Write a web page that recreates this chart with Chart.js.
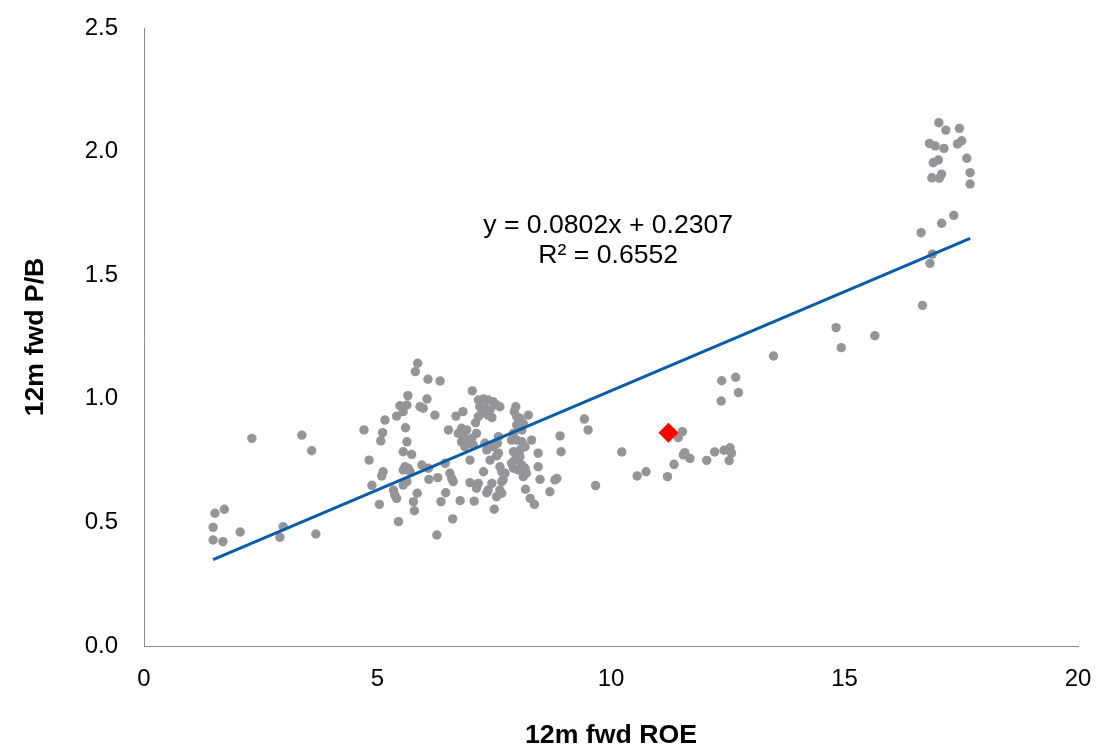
<!DOCTYPE html>
<html>
<head>
<meta charset="utf-8">
<script src="https://cdn.jsdelivr.net/npm/chart.js@4.4.1/dist/chart.umd.min.js"></script>
<style>
html,body{margin:0;padding:0;background:#ffffff;}
#wrap{width:1097px;height:747px;}
</style>
</head>
<body>
<div id="wrap"><canvas id="c" width="1097" height="747"></canvas></div>
<script>
// ---- Data ----
const peerRoe = [
  2.31,3.38,3.59,1.52,1.72,1.48,1.48,1.69,2.06,2.98,2.91,3.68,4.71,5.16,5.11,5.07,4.82,5.12,5.09,4.88,5.04,
  5.86,5.81,6.08,6.34,5.65,6.06,5.48,5.63,5.55,5.91,5.98,5.41,6.23,6.68,6.83,5.60,6.52,6.73,6.80,5.63,5.55,5.73,
  7.03,7.16,7.27,7.37,7.48,7.55,7.62,7.19,7.30,7.41,7.23,7.37,7.16,7.45,7.96,7.93,7.98,8.23,8.02,8.12,7.10,6.80,
  6.91,6.84,7.12,6.94,7.02,7.05,6.87,7.30,7.34,7.48,7.57,7.59,7.87,7.98,8.09,8.16,8.05,7.91,8.01,8.91,7.59,8.44,
  7.98,8.09,8.30,7.91,8.05,
  5.59,5.66,5.70,5.55,5.95,6.09,6.45,5.63,5.55,6.10,6.29,6.55,6.59,6.62,5.34,5.37,5.41,5.85,6.46,5.77,5.79,6.36,
  6.77,5.45,6.61,6.27,
  7.55,6.98,7.41,7.87,7.94,8.05,7.91,8.01,8.09,8.16,8.19,8.12,8.44,7.62,7.66,7.73,7.69,7.27,6.98,7.16,7.12,7.45,
  7.37,7.34,7.66,7.62,7.66,7.55,8.48,8.80,8.84,8.69,8.17,8.27,8.36,7.07,7.50,
  9.43,9.51,8.93,10.23,9.67,10.56,10.75,11.21,11.35,11.53,11.44,11.55,11.58,11.69,12.05,12.22,12.42,12.55,12.58,
  12.53,12.36,12.37,12.67,12.73,13.48,
  14.82,14.93,15.65,16.67,
  17.02,17.17,17.46,16.82,16.94,17.13,17.51,17.42,17.62,17.01,16.90,17.69,16.87,17.08,17.03,17.69,17.34,17.08,
  16.64,16.88,16.83
];
const peerPb = [
  0.840,0.853,0.790,0.537,0.553,0.480,0.429,0.422,0.461,0.483,0.440,0.453,0.874,0.914,0.863,0.830,0.752,0.705,0.688,0.650,0.573,
  1.144,1.110,1.079,1.072,1.013,0.999,0.972,0.975,0.948,0.968,0.962,0.930,0.934,0.930,0.948,0.883,0.874,0.860,0.826,0.826,0.786,0.775,
  1.032,0.995,0.999,0.995,0.988,0.975,0.968,0.968,0.962,0.955,0.941,0.934,0.928,0.924,0.968,0.948,0.928,0.934,0.907,0.901,0.903,0.881,
  0.874,0.847,0.860,0.833,0.840,0.813,0.806,0.820,0.793,0.806,0.820,0.847,0.833,0.833,0.826,0.806,0.793,0.786,0.780,0.850,0.780,0.780,
  0.894,0.874,0.833,0.860,0.921,
  0.725,0.719,0.705,0.712,0.732,0.719,0.739,0.665,0.651,0.674,0.681,0.699,0.678,0.665,0.631,0.611,0.597,0.618,0.620,0.584,0.547,0.584,
  0.588,0.503,0.514,0.449,
  0.769,0.752,0.752,0.739,0.752,0.766,0.719,0.712,0.732,0.719,0.699,0.685,0.725,0.725,0.705,0.699,0.672,0.705,0.661,0.658,0.638,0.658,
  0.631,0.620,0.665,0.631,0.618,0.604,0.674,0.672,0.678,0.624,0.634,0.597,0.573,0.586,0.553,
  0.918,0.874,0.786,0.785,0.649,0.688,0.705,0.685,0.735,0.867,0.843,0.773,0.782,0.759,0.751,0.785,0.792,0.802,0.780,
  0.750,0.991,1.073,1.087,1.025,1.173,
  1.288,1.207,1.255,1.378,
  2.117,2.087,2.094,2.033,2.023,2.013,2.044,2.031,1.973,1.966,1.955,1.915,1.894,1.909,1.892,1.869,1.742,1.710,
  1.672,1.585,1.548
];
const highlightRoe = [11.23];
const highlightPb = [0.863];
const trendSlope = 0.0802;
const trendIntercept = 0.2307;
const trendR2 = 0.6552;
const xTickValues = [0, 5, 10, 15, 20];
const yTickValues = [0, 0.5, 1.0, 1.5, 2.0, 2.5];
const xTitle = '12m fwd ROE';
const yTitle = '12m fwd P/B';
const eqLine1 = 'y = ' + trendSlope.toFixed(4) + 'x + ' + trendIntercept.toFixed(4);
const eqLine2 = 'R\u00B2 = ' + trendR2.toFixed(4);

// ---- Build datasets ----
const peerPoints = peerRoe.map((x, i) => ({x: x, y: peerPb[i]}));
const highlightPoints = highlightRoe.map((x, i) => ({x: x, y: highlightPb[i]}));
const xMin = Math.min(...peerRoe), xMax = Math.max(...peerRoe);
const trendPoints = [xMin, xMax].map(x => ({x: x, y: trendSlope * x + trendIntercept}));

const FONT = "'Liberation Sans', Arial, Helvetica, sans-serif";

const equationPlugin = {
  id: 'equation',
  afterDatasetsDraw(chart) {
    const {ctx, scales: {x, y}} = chart;
    const px = x.getPixelForValue(9.94);
    const py = y.getPixelForValue(1.70);
    ctx.save();
    ctx.fillStyle = '#000000';
    ctx.font = '26.6px ' + FONT;
    ctx.textAlign = 'center';
    ctx.textBaseline = 'middle';
    ctx.fillText(eqLine1, px, py);
    ctx.fillText(eqLine2, px, py + 30);
    ctx.restore();
  }
};

new Chart(document.getElementById('c'), {
  type: 'scatter',
  data: {
    datasets: [
      {
        label: 'Highlight',
        data: highlightPoints,
        pointStyle: 'rectRot',
        pointRadius: 10,
        pointHoverRadius: 10,
        backgroundColor: '#ff0000',
        borderColor: '#ff0000',
        borderWidth: 0
      },
      {
        label: 'Trend',
        type: 'line',
        data: trendPoints,
        borderColor: '#0b5ca6',
        borderWidth: 3,
        pointRadius: 0,
        fill: false,
        tension: 0
      },
      {
        label: 'Peers',
        data: peerPoints,
        pointStyle: 'circle',
        pointRadius: 4.7,
        pointHoverRadius: 4.7,
        backgroundColor: '#949599',
        borderColor: '#949599',
        borderWidth: 0
      }
    ]
  },
  options: {
    responsive: false,
    animation: false,
    devicePixelRatio: 1,
    layout: {padding: {top: 28, right: 19, bottom: 0, left: 0}},
    plugins: {legend: {display: false}, tooltip: {enabled: false}},
    scales: {
      x: {
        type: 'linear',
        min: 0, max: 20,
        afterBuildTicks: (s) => { s.ticks = xTickValues.map(v => ({value: v})); },
        afterFit: (s) => { s.height = 101; s.paddingLeft = 0; s.paddingRight = 0; },
        grid: {display: false, drawTicks: false},
        border: {display: true, color: '#8c8c8c', width: 1},
        ticks: {color: '#000000', font: {family: FONT, size: 24}, padding: 19, maxRotation: 0,
                callback: (v) => String(v)},
        title: {display: true, text: xTitle, color: '#000000',
                font: {family: FONT, size: 26.7, weight: 'bold', lineHeight: 0.85}, padding: {top: 0, bottom: 0}}
      },
      y: {
        type: 'linear',
        min: 0, max: 2.5,
        afterBuildTicks: (s) => { s.ticks = yTickValues.map(v => ({value: v})); },
        afterFit: (s) => { s.width = 144; s.paddingTop = 0; s.paddingBottom = 0; },
        grid: {display: false, drawTicks: false},
        border: {display: true, color: '#8c8c8c', width: 1},
        ticks: {color: '#000000', font: {family: FONT, size: 24}, padding: 26,
                callback: (v) => Number(v).toFixed(1)},
        title: {display: true, text: yTitle, color: '#000000',
                font: {family: FONT, size: 26.7, weight: 'bold', lineHeight: 1.0}, padding: {top: 22, bottom: 0}}
      }
    }
  },
  plugins: [equationPlugin]
});
</script>
</body>
</html>
